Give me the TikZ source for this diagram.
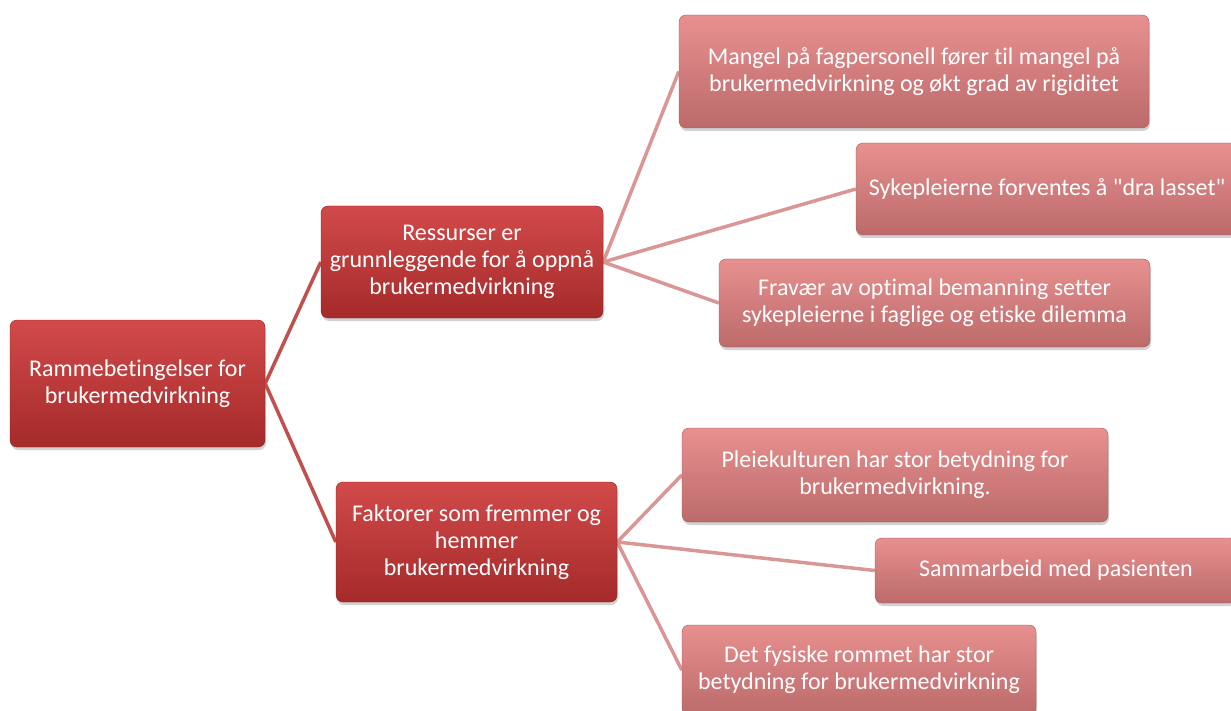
\documentclass[tikz,border=0pt]{standalone}
\usepackage{fontspec}
\setmainfont{Carlito}[Ligatures={TeXOff,CommonOff}]
\usetikzlibrary{shadows,backgrounds}
\definecolor{darktop}{HTML}{D24A4A}
\definecolor{darkbot}{HTML}{A52A2A}
\definecolor{lighttop}{HTML}{E89090}
\definecolor{lightbot}{HTML}{BC6A6A}
\definecolor{linkdark}{HTML}{C0504D}
\definecolor{linklight}{HTML}{D99694}
\tikzset{
  box/.style={rounded corners=7pt, text=white, align=center, inner sep=0pt,
    font=\fontsize{24}{27}\selectfont,
    drop shadow={opacity=0.35, shadow xshift=1pt, shadow yshift=-3pt}},
  darkbox/.style={box, top color=darktop, bottom color=darkbot, draw=darkbot!80!black, line width=0.4pt},
  lightbox/.style={box, top color=lighttop, bottom color=lightbot, draw=lightbot!85!black, line width=0.4pt},
  linkA/.style={draw=linkdark, line width=3.5pt},
  linkB/.style={draw=linklight, line width=3.5pt},
}
\begin{document}
\begin{tikzpicture}[x=1pt,y=-1pt]
\useasboundingbox (0,0) rectangle (1231,711);
\clip (0,0) rectangle (1231,711);
\node[darkbox, minimum width=255pt, minimum height=127pt] (root) at (137.5,383.5) {Rammebetingelser for\\brukermedvirkning};
\node[darkbox, minimum width=282pt, minimum height=112pt] (a) at (462,262) {Ressurser er\\grunnleggende for å oppnå\\brukermedvirkning};
\node[darkbox, minimum width=281pt, minimum height=120pt] (b) at (476.5,542) {Faktorer som fremmer og\\hemmer\\brukermedvirkning};
\node[lightbox, minimum width=470pt, minimum height=113pt] (a1) at (914,71.5) {Mangel på fagpersonell fører til mangel på\\brukermedvirkning og økt grad av rigiditet};
\node[lightbox, minimum width=382pt, minimum height=92pt] (a2) at (1047,189) {Sykepleierne forventes å "dra lasset"};
\node[lightbox, minimum width=431pt, minimum height=88pt] (a3) at (934.5,303) {Fravær av optimal bemanning setter\\sykepleierne i faglige og etiske dilemma};
\node[lightbox, minimum width=426pt, minimum height=94pt] (b1) at (895,475) {Pleiekulturen har stor betydning for\\brukermedvirkning.};
\node[lightbox, minimum width=362pt, minimum height=65pt] (b2) at (1056,570.5) {Sammarbeid med pasienten};
\node[lightbox, minimum width=354pt, minimum height=90pt] (b3) at (859,670) {Det fysiske rommet har stor\\betydning for brukermedvirkning};
\begin{scope}[on background layer]
\fill[white] (0,0) rectangle (1231,711);
\draw[linkA] (root.east) -- (a.west);
\draw[linkA] (root.east) -- (b.west);
\draw[linkB] (a.east) -- (a1.west);
\draw[linkB] (a.east) -- (a2.west);
\draw[linkB] (a.east) -- (a3.west);
\draw[linkB] (b.east) -- (b1.west);
\draw[linkB] (b.east) -- (b2.west);
\draw[linkB] (b.east) -- (b3.west);
\end{scope}
\end{tikzpicture}
\end{document}
